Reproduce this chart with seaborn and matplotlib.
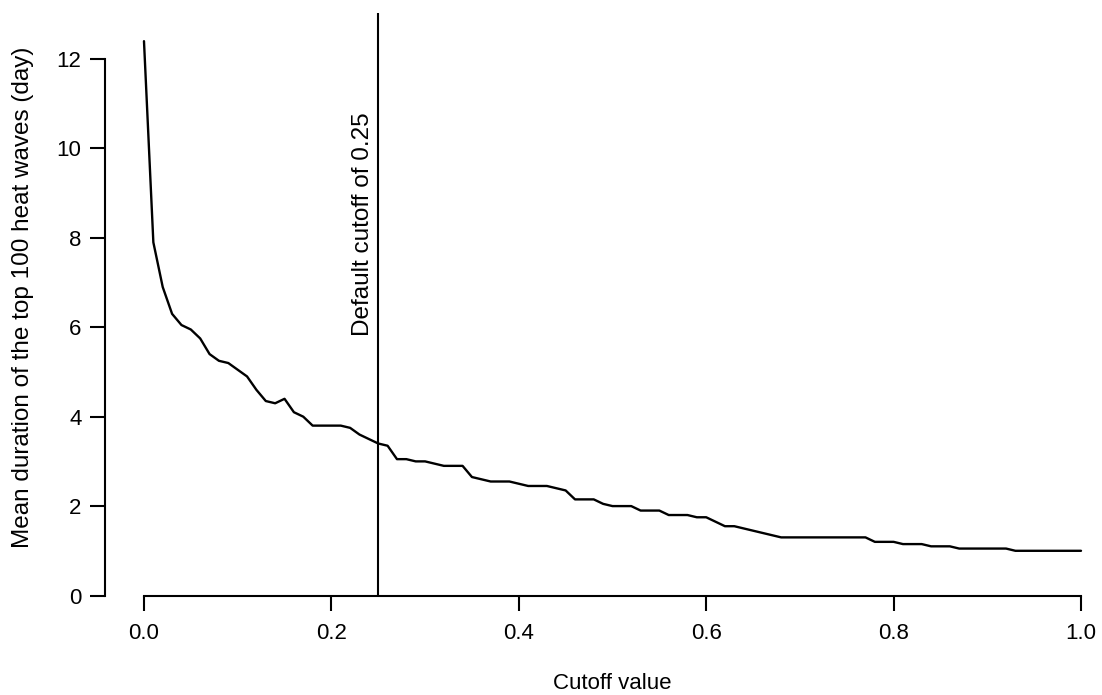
import matplotlib
matplotlib.use("Agg")
import matplotlib.pyplot as plt
import matplotlib.transforms as mtransforms
import seaborn as sns
import pandas as pd
import numpy as np

# ---- data ----
cutoff = [round(i * 0.01, 2) for i in range(101)]
mean_duration = [
    12.4, 7.9, 6.9, 6.3, 6.05, 5.95, 5.75, 5.4, 5.25, 5.2,   # 0.00-0.09
    5.05, 4.9, 4.6, 4.35, 4.3, 4.4, 4.1, 4.0, 3.8, 3.8,      # 0.10-0.19
    3.8, 3.8, 3.75, 3.6, 3.5, 3.4, 3.35, 3.05, 3.05, 3.0,    # 0.20-0.29
    3.0, 2.95, 2.9, 2.9, 2.9, 2.65, 2.6, 2.55, 2.55, 2.55,   # 0.30-0.39
    2.5, 2.45, 2.45, 2.45, 2.4, 2.35, 2.15, 2.15, 2.15, 2.05, # 0.40-0.49
    2.0, 2.0, 2.0, 1.9, 1.9, 1.9, 1.8, 1.8, 1.8, 1.75,       # 0.50-0.59
    1.75, 1.65, 1.55, 1.55, 1.5, 1.45, 1.4, 1.35, 1.3, 1.3,  # 0.60-0.69
    1.3, 1.3, 1.3, 1.3, 1.3, 1.3, 1.3, 1.3, 1.2, 1.2,        # 0.70-0.79
    1.2, 1.15, 1.15, 1.15, 1.1, 1.1, 1.1, 1.05, 1.05, 1.05,  # 0.80-0.89
    1.05, 1.05, 1.05, 1.0, 1.0, 1.0, 1.0, 1.0, 1.0, 1.0,     # 0.90-0.99
    1.0,                                                     # 1.00
]
default_cutoff = 0.25
x_ticks = [0.0, 0.2, 0.4, 0.6, 0.8, 1.0]
x_tick_labels = ["0.0", "0.2", "0.4", "0.6", "0.8", "1.0"]
y_ticks = [0, 2, 4, 6, 8, 10, 12]
y_tick_labels = ["0", "2", "4", "6", "8", "10", "12"]

df = pd.DataFrame({"cutoff": cutoff, "duration": mean_duration})

sns.set_style("ticks")
plt.rcParams["font.family"] = ["Liberation Sans", "DejaVu Sans"]
plt.rcParams["text.color"] = "black"
plt.rcParams["axes.labelcolor"] = "black"
plt.rcParams["xtick.color"] = "black"
plt.rcParams["ytick.color"] = "black"

W, H = 1102, 695
fig = plt.figure(figsize=(W / 100, H / 100), dpi=100)
left_px, right_px, top_px, bottom_px = 105, 1102, 13, 595.5
ax = fig.add_axes([left_px / W, (H - bottom_px) / H,
                   (right_px - left_px) / W, (bottom_px - top_px) / H])

sns.lineplot(data=df, x="cutoff", y="duration", ax=ax, color="black",
             linewidth=1.7, estimator=None)

ax.axvline(default_cutoff, color="black", linewidth=1.5)
offset = mtransforms.offset_copy(ax.transData, fig=fig, x=-4, y=0, units="dots")
ax.text(default_cutoff, 5.8, "Default cutoff of 0.25", rotation=90,
        ha="right", va="bottom", fontsize=17.5, color="black", transform=offset)

ax.set_xlim(-0.0416, 1.0224)
ax.set_ylim(0, 13.03)
ax.set_xticks(x_ticks)
ax.set_xticklabels(x_tick_labels)
ax.set_yticks(y_ticks)
ax.set_yticklabels(y_tick_labels)

for s in ["top", "right"]:
    ax.spines[s].set_visible(False)
ax.spines["bottom"].set_bounds(0, 1)
ax.spines["left"].set_bounds(0, 12)
for s in ["bottom", "left"]:
    ax.spines[s].set_linewidth(1.5)
    ax.spines[s].set_color("black")

ax.tick_params(axis="both", length=11, width=1.5, colors="black",
               labelcolor="black", labelsize=16, direction="out")
ax.tick_params(axis="x", pad=9)
ax.tick_params(axis="y", pad=6)

ax.set_xlabel("Cutoff value", fontsize=16, color="black")
ax.set_ylabel("Mean duration of the top 100 heat waves (day)", fontsize=17.5,
              color="black")
ax.xaxis.set_label_coords((612 - left_px) / (right_px - left_px),
                          (bottom_px - 673) / (bottom_px - top_px))
ax.yaxis.set_label_coords((34 - left_px) / (right_px - left_px),
                          (bottom_px - 297) / (bottom_px - top_px))

fig.savefig("out.png", dpi=100)
